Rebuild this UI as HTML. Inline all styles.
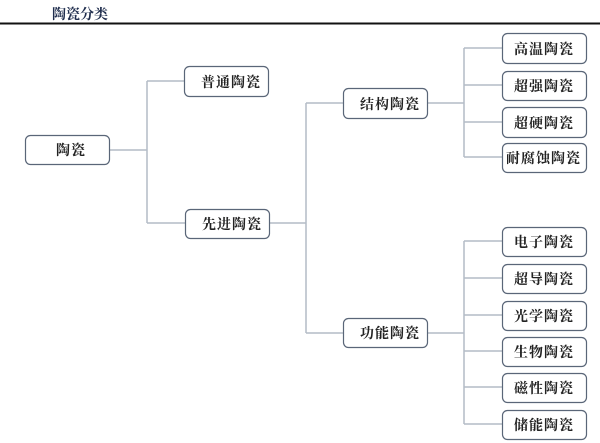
<!DOCTYPE html>
<html><head><meta charset="utf-8"><style>
html,body{margin:0;padding:0;background:#fff;}
svg{display:block;}
text{font-family:"Liberation Serif","Noto Serif CJK SC",serif;font-size:14px;fill:#222;font-weight:bold;letter-spacing:1px;}
.t{fill:#1f2d4d;font-size:14px;letter-spacing:0px;}
.b{fill:#fff;stroke:#5a6678;stroke-width:1.2;}
.c{fill:none;stroke:#b4bcc6;stroke-width:1.5;}
</style></head><body>
<svg width="600" height="443" viewBox="0 0 600 443" xmlns="http://www.w3.org/2000/svg">
<text class="t" x="52" y="19">陶瓷分类</text>
<line x1="0" y1="23.5" x2="600" y2="23.5" stroke="#111" stroke-width="2"/>
<!-- connectors -->
<path class="c" d="M109 150 H147 M147 81 V223 M147 81 H184 M147 223 H185"/>
<path class="c" d="M269 223 H306 M306 103 V333 M306 103 H343 M306 333 H343"/>
<path class="c" d="M427 103 H464 M464 48 V157 M464 48 H502 M464 85 H502 M464 122 H502 M464 157 H502"/>
<path class="c" d="M427 333 H464 M464 241 V424 M464 241 H502 M464 278 H502 M464 315 H502 M464 351 H502 M464 387 H502 M464 424 H502"/>
<!-- boxes -->
<rect class="b" x="25.5" y="135.5" width="84" height="29" rx="5"/>
<text x="56" y="155">陶瓷</text>
<rect class="b" x="184.5" y="66.5" width="84" height="30" rx="5"/>
<text x="201" y="87">普通陶瓷</text>
<rect class="b" x="185.5" y="209.5" width="84" height="29" rx="5"/>
<text x="202" y="229">先进陶瓷</text>
<rect class="b" x="343.5" y="88.5" width="84" height="30" rx="5"/>
<text x="360" y="109">结构陶瓷</text>
<rect class="b" x="343.5" y="318.5" width="84" height="29" rx="5"/>
<text x="360" y="338">功能陶瓷</text>

<rect class="b" x="502.5" y="33.5" width="84" height="30" rx="5"/>
<text x="514" y="54">高温陶瓷</text>
<rect class="b" x="502.5" y="71.5" width="84" height="29" rx="5"/>
<text x="514" y="91">超强陶瓷</text>
<rect class="b" x="502.5" y="107.5" width="84" height="30" rx="5"/>
<text x="514" y="128">超硬陶瓷</text>
<rect class="b" x="502.5" y="143.5" width="84" height="29" rx="5"/>
<text x="506" y="163">耐腐蚀陶瓷</text>

<rect class="b" x="502.5" y="227.5" width="84" height="29" rx="5"/>
<text x="514" y="247">电子陶瓷</text>
<rect class="b" x="502.5" y="264.5" width="84" height="29" rx="5"/>
<text x="514" y="284">超导陶瓷</text>
<rect class="b" x="502.5" y="301.5" width="84" height="29" rx="5"/>
<text x="514" y="321">光学陶瓷</text>
<rect class="b" x="502.5" y="337.5" width="84" height="29" rx="5"/>
<text x="514" y="357">生物陶瓷</text>
<rect class="b" x="502.5" y="373.5" width="84" height="29" rx="5"/>
<text x="514" y="393">磁性陶瓷</text>
<rect class="b" x="502.5" y="410.5" width="84" height="29" rx="5"/>
<text x="514" y="430">储能陶瓷</text>
</svg>
</body></html>
